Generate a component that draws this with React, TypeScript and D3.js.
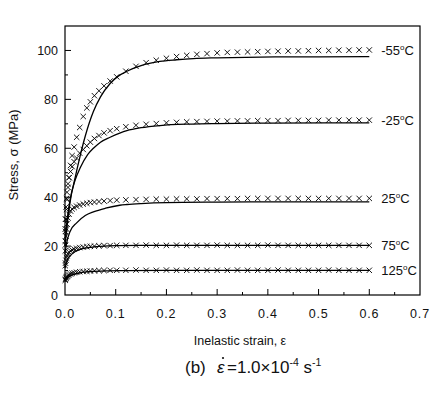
import React from "react";
import * as d3 from "d3";

// ---- Data ----
const xTicks = [0.0, 0.1, 0.2, 0.3, 0.4, 0.5, 0.6, 0.7];
const yTicks = [0, 20, 40, 60, 80, 100];

// experimental strain sampling (markers)
const markerStrain = [
  0.0005, 0.001, 0.002, 0.003, 0.004, 0.006, 0.008, 0.011, 0.014, 0.018,
  0.023, 0.029, 0.036, 0.043, 0.05, 0.058, 0.067, 0.077, 0.089, 0.102,
  0.12, 0.14, 0.16, 0.18, 0.2, 0.22, 0.24, 0.26, 0.28, 0.3, 0.32, 0.34,
  0.36, 0.38, 0.4, 0.42, 0.44, 0.46, 0.48, 0.5, 0.52, 0.54, 0.56, 0.58, 0.6,
];

const expM55 = [
  22, 26, 31, 35, 39, 44, 48, 53, 57, 60.5, 64.5, 68.5, 73, 76.5, 79, 81.5,
  83.5, 85.5, 87.5, 89.2, 91.5, 93.5, 95, 96, 96.8, 97.5, 98, 98.4, 98.7, 99,
  99.2, 99.3, 99.4, 99.5, 99.6, 99.7, 99.8, 99.8, 99.9, 100, 100, 100.1,
  100.1, 100.2, 100.2,
];
const expM25 = [
  27, 31, 36, 39.5, 42, 45.5, 48, 50.5, 52.5, 54.5, 56, 58, 59.5, 61, 62.5,
  64, 65.2, 66.3, 67.2, 68, 68.8, 69.4, 69.8, 70.1, 70.4, 70.6, 70.8, 70.9,
  71, 71.1, 71.1, 71.2, 71.2, 71.3, 71.3, 71.3, 71.4, 71.4, 71.4, 71.4, 71.5,
  71.5, 71.5, 71.5, 71.5,
];
const exp25 = [
  18, 20.5, 24, 27, 29, 31.5, 33, 34.3, 35.2, 35.8, 36.3, 36.8, 37.2, 37.5,
  37.8, 38, 38.2, 38.4, 38.6, 38.8, 38.9, 39, 39.1, 39.2, 39.2, 39.3, 39.3,
  39.3, 39.4, 39.4, 39.4, 39.4, 39.5, 39.5, 39.5, 39.5, 39.5, 39.5, 39.5,
  39.5, 39.5, 39.5, 39.5, 39.5, 39.5,
];
const exp75 = [
  12, 13, 14.2, 15.2, 16, 16.9, 17.5, 18, 18.4, 18.8, 19.1, 19.4, 19.6, 19.8,
  19.9, 20, 20.1, 20.2, 20.2, 20.3, 20.3, 20.3, 20.4, 20.3, 20.3, 20.4, 20.3,
  20.3, 20.3, 20.4, 20.3, 20.3, 20.3, 20.3, 20.4, 20.3, 20.3, 20.3, 20.3,
  20.3, 20.3, 20.3, 20.3, 20.3, 20.3,
];
const exp125 = [
  6, 6.4, 6.9, 7.3, 7.6, 8, 8.3, 8.6, 8.9, 9.1, 9.3, 9.5, 9.6, 9.7, 9.8, 9.9,
  10, 10, 10.1, 10.1, 10.1, 10.2, 10.1, 10.1, 10.2, 10.1, 10.1, 10.2, 10.1,
  10.1, 10.1, 10.2, 10.1, 10.1, 10.1, 10.2, 10.1, 10.1, 10.1, 10.1, 10.2,
  10.1, 10.1, 10.1, 10.1,
];

// model curves (solid lines)
const modelM55Strain = [0, 0.005, 0.01, 0.02, 0.03, 0.04, 0.056, 0.07, 0.089, 0.105, 0.122, 0.15, 0.187, 0.22, 0.253, 0.3, 0.385, 0.5, 0.6];
const modelM55Stress = [20, 30, 38, 48, 57, 65, 75, 81, 86.5, 89.5, 91.5, 93.8, 95.5, 96.2, 96.7, 97, 97.3, 97.4, 97.5];
const modelM25Strain = [0, 0.005, 0.01, 0.02, 0.03, 0.045, 0.056, 0.07, 0.089, 0.108, 0.122, 0.15, 0.187, 0.25, 0.3, 0.4, 0.6];
const modelM25Stress = [22, 32, 39, 47, 52, 57.5, 60, 62.5, 64.5, 66.2, 67.2, 68.4, 69.3, 69.9, 70.1, 70.3, 70.4];
const model25Strain = [0, 0.003, 0.01, 0.023, 0.04, 0.056, 0.08, 0.108, 0.122, 0.15, 0.2, 0.3, 0.4, 0.6];
const model25Stress = [17, 21, 26, 29.5, 32.5, 34, 35.5, 36.7, 37, 37.4, 37.8, 38, 38.1, 38.1];
const model75Strain = [0, 0.005, 0.01, 0.02, 0.03, 0.05, 0.07, 0.1, 0.15, 0.2, 0.6];
const model75Stress = [11, 14.5, 16, 17.8, 18.7, 19.5, 19.9, 20.2, 20.3, 20.3, 20.3];
const model125Strain = [0, 0.005, 0.01, 0.02, 0.03, 0.05, 0.08, 0.12, 0.2, 0.6];
const model125Stress = [5.5, 7, 7.8, 8.6, 9.1, 9.6, 9.9, 10, 10.1, 10.1];

const seriesLabels = ["-55", "-25", "25", "75", "125"];

const series = [
  { label: seriesLabels[0], exp: expM55, ms: modelM55Strain, my: modelM55Stress },
  { label: seriesLabels[1], exp: expM25, ms: modelM25Strain, my: modelM25Stress },
  { label: seriesLabels[2], exp: exp25, ms: model25Strain, my: model25Stress },
  { label: seriesLabels[3], exp: exp75, ms: model75Strain, my: model75Stress },
  { label: seriesLabels[4], exp: exp125, ms: model125Strain, my: model125Stress },
];

const FONT = "'Liberation Sans', Arial, Helvetica, sans-serif";

export default function App() {
  const W = 443;
  const H = 397;
  const left = 65, right = 420, top = 26, bottom = 295;
  const x = d3.scaleLinear().domain([0, 0.7]).range([left, right]);
  const y = d3.scaleLinear().domain([0, 110]).range([bottom, top]);

  const line = d3
    .line<[number, number]>()
    .x((d) => x(d[0]))
    .y((d) => y(d[1]))
    .curve(d3.curveMonotoneX);

  const xMinor = d3.range(0.05, 0.7, 0.1);
  const yMinor = d3.range(10, 110, 20);
  const m = 2.7;

  return (
    <svg
      width={W}
      height={H}
      style={{ position: "absolute", left: 0, top: 0, background: "#fff" }}
      fontFamily={FONT}
    >
      <rect x={0} y={0} width={W} height={H} fill="#fff" />
      {/* frame */}
      <rect
        x={left}
        y={top}
        width={right - left}
        height={bottom - top}
        fill="none"
        stroke="#000"
        strokeWidth={1.2}
      />
      {/* x ticks */}
      {xTicks.slice(1, -1).map((t) => (
        <line key={"xt" + t} x1={x(t)} x2={x(t)} y1={bottom} y2={bottom - 6} stroke="#000" strokeWidth={1} />
      ))}
      {xMinor.map((t) => (
        <line key={"xm" + t} x1={x(t)} x2={x(t)} y1={bottom} y2={bottom - 3} stroke="#000" strokeWidth={1} />
      ))}
      {xTicks.map((t) => (
        <text
          key={"xl" + t}
          x={x(t)}
          y={318}
          fontSize={12.5}
          letterSpacing={0.8}
          textAnchor="middle"
          fill="#111"
        >
          {d3.format(".1f")(t)}
        </text>
      ))}
      {/* y ticks */}
      {yTicks.slice(1).map((t) => (
        <line key={"yt" + t} x1={left} x2={left + 6} y1={y(t)} y2={y(t)} stroke="#000" strokeWidth={1} />
      ))}
      {yMinor.map((t) => (
        <line key={"ym" + t} x1={left} x2={left + 3} y1={y(t)} y2={y(t)} stroke="#000" strokeWidth={1} />
      ))}
      {yTicks.map((t) => (
        <text key={"yl" + t} x={58} y={y(t) + 4.5} fontSize={12.5} textAnchor="end" fill="#111">
          {t}
        </text>
      ))}

      {/* model lines */}
      {series.map((s) => (
        <path
          key={"l" + s.label}
          d={line(s.ms.map((v, i) => [v, s.my[i]] as [number, number])) || ""}
          fill="none"
          stroke="#000"
          strokeWidth={1.3}
        />
      ))}

      {/* experimental markers */}
      {series.map((s) => (
        <g key={"m" + s.label} stroke="#000" strokeWidth={0.9}>
          {markerStrain.map((e, i) => {
            const cx = x(e);
            const cy = y(s.exp[i]);
            return (
              <path
                key={i}
                d={`M${cx - m},${cy - m}L${cx + m},${cy + m}M${cx - m},${cy + m}L${cx + m},${cy - m}`}
                fill="none"
              />
            );
          })}
        </g>
      ))}

      {/* series labels */}
      {series.map((s) => (
        <text
          key={"t" + s.label}
          x={x(0.6) + 12}
          y={y(s.exp[s.exp.length - 1]) + 5}
          fontSize={13}
          fill="#111"
        >
          {s.label}
          <tspan fontSize={8} dy={-5}>o</tspan>
          <tspan dy={5}>C</tspan>
        </text>
      ))}

      {/* axis titles */}
      <text
        transform={`translate(18,155) rotate(-90)`}
        textAnchor="middle"
        fontSize={13}
        fill="#111"
      >
        Stress, σ (MPa)
      </text>
      <text x={240} y={345} textAnchor="middle" fontSize={12.5} fill="#111">
        Inelastic strain, ε
      </text>

      {/* caption */}
      <text x={185} y={373} fontSize={17} fill="#111">
        (b)
      </text>
      <text x={217} y={373} fontSize={17} fontStyle="italic" fill="#111">
        ε
      </text>
      <circle cx={223} cy={358} r={1.1} fill="#111" />
      <text x={227} y={373} fontSize={17} fill="#111">
        =1.0×10
        <tspan fontSize={10.5} dy={-7}>-4</tspan>
        <tspan dy={7}> s</tspan>
        <tspan fontSize={10.5} dy={-7}>-1</tspan>
      </text>
    </svg>
  );
}
